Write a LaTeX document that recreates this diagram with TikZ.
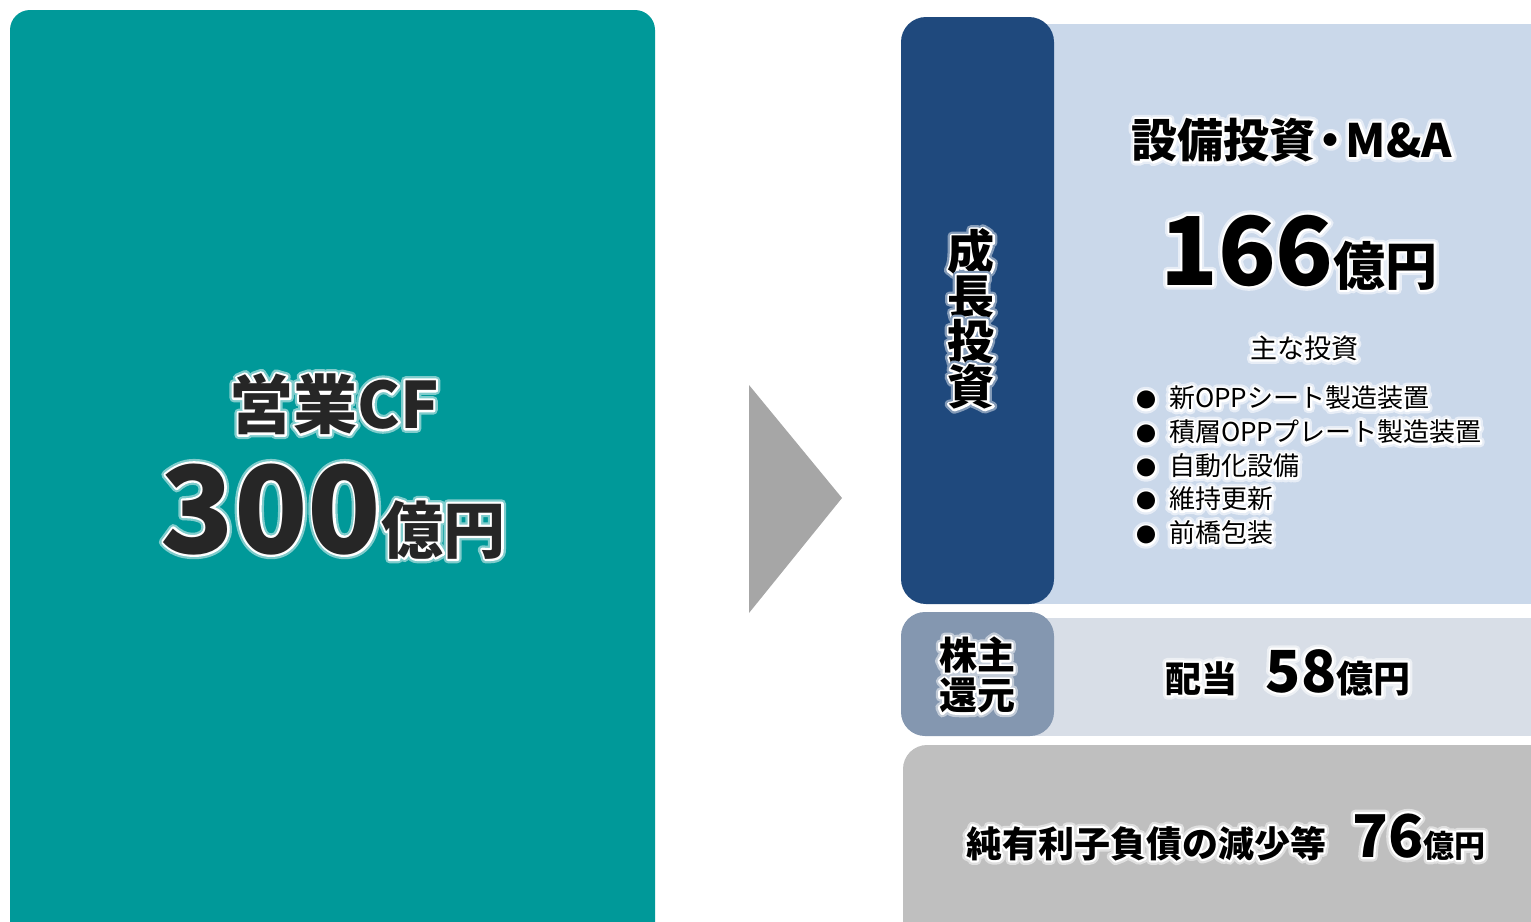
\documentclass[tikz,border=0pt]{standalone}
\usepackage{fontspec}
\setmainfont{Noto Sans CJK JP}
\colorlet{glowc}{white}
\newcommand{\glow}[1]{\leavevmode\rlap{\special{pdf:literal direct 2 Tr 1 j 9 w}\textcolor{glowc}{#1}\special{pdf:literal direct 0 Tr 0 j 0.3985 w}}\rlap{\special{pdf:literal direct 2 Tr 1 j 4.5 w}\textcolor{white}{#1}\special{pdf:literal direct 0 Tr 0 j 0.3985 w}}#1}
\newcommand{\fs}[1]{\fontsize{#1}{#1}\selectfont}
\definecolor{teal1}{HTML}{009999}
\definecolor{navy1}{HTML}{1F497D}
\definecolor{lblue}{HTML}{CAD8EA}
\definecolor{slate}{HTML}{8497B0}
\definecolor{lslate}{HTML}{D8DEE7}
\definecolor{gray1}{HTML}{BFBFBF}
\definecolor{arrowg}{HTML}{A6A6A6}
\definecolor{ink}{HTML}{262626}
\tikzset{
  txt/.style={inner sep=0pt, outer sep=0pt, text=black},
  bold/.style={font=\bfseries},
  onteal/.style={text=ink, execute at begin node={\colorlet{glowc}{white!50!teal1}}},
  onnavy/.style={execute at begin node={\colorlet{glowc}{white!45!navy1}}},
  onblue/.style={execute at begin node={\colorlet{glowc}{white!55!lblue}}},
  onslate/.style={execute at begin node={\colorlet{glowc}{white!50!slate}}},
  onlslate/.style={execute at begin node={\colorlet{glowc}{white!55!lslate}}},
  ongray/.style={execute at begin node={\colorlet{glowc}{white!50!gray1}}}
}
\begin{document}
\begin{tikzpicture}[x=1pt,y=-1pt]
\useasboundingbox (0,0) rectangle (1531,921);
\clip (0,0) rectangle (1531,921);
% left box
\fill[teal1, rounded corners=20pt] (10,10) rectangle (655,960);
% arrow
\fill[arrowg] (749,385) -- (842,498) -- (749,613) -- cycle;
% growth investment
\fill[lblue] (1010,24) rectangle (1560,604);
\fill[navy1, rounded corners=25pt] (901,17) rectangle (1054,604);
% shareholder return
\fill[lslate] (1010,618) rectangle (1560,736);
\fill[slate, rounded corners=24pt] (901,612) rectangle (1054,736);
% debt
\fill[gray1, rounded corners=24pt] (903,745) rectangle (1580,980);

% texts left
\node[txt, bold, onteal] (cf) at (334,404) {\glow{\fs{64}営業CF}};
\node[txt, bold, onteal, anchor=base] (cfv) at (333,553) {\glow{\fs{121}300}\glow{\fs{62}億円}};

% growth
\node[txt, bold, onnavy, align=center] (grow) at (971,319) {\fs{47}\glow{成}\\[-0.5pt]\fs{47}\glow{長}\\[-0.5pt]\fs{47}\glow{投}\\[-0.5pt]\fs{47}\glow{資}};
\node[txt, bold, onblue] (capex) at (1292,140) {\glow{\fs{46}設備投資\hspace{-8pt}・\hspace{-8pt}M\&A}};
\node[txt, bold, onblue, anchor=base] (capexv) at (1299,285) {\glow{\fs{95}166}\glow{\fs{52}億円}};
\node[txt, onblue] (main) at (1304,348) {\glow{\fs{27}主な投資}};
\node[txt, onblue, anchor=west] (b1) at (1136,398) {\glow{{\fs{20}●}\hspace{13pt}\fs{26}新OPPシート製造装置}};
\node[txt, onblue, anchor=west] (b2) at (1136,432) {\glow{{\fs{20}●}\hspace{13pt}\fs{26}積層OPPプレート製造装置}};
\node[txt, onblue, anchor=west] (b3) at (1136,466) {\glow{{\fs{20}●}\hspace{13pt}\fs{26}自動化設備}};
\node[txt, onblue, anchor=west] (b4) at (1136,499) {\glow{{\fs{20}●}\hspace{13pt}\fs{26}維持更新}};
\node[txt, onblue, anchor=west] (b5) at (1136,533) {\glow{{\fs{20}●}\hspace{13pt}\fs{26}前橋包装}};

% shareholder
\node[txt, bold, onslate, align=center] (share) at (977,675) {\fs{38}\glow{株主}\\[4pt]\fs{38}\glow{還元}};
\node[txt, bold, onlslate, anchor=base] (div) at (1288,692) {\glow{\fs{36}配当}\hspace{28pt}\glow{\fs{58}58}\glow{\fs{37}億円}};

% debt
\node[txt, bold, ongray, anchor=base] (debt) at (1226,857) {\glow{\fs{36}純有利子負債の減少等}\hspace{26pt}\glow{\fs{59}76}\glow{\fs{31}億円}};
\end{tikzpicture}
\end{document}
